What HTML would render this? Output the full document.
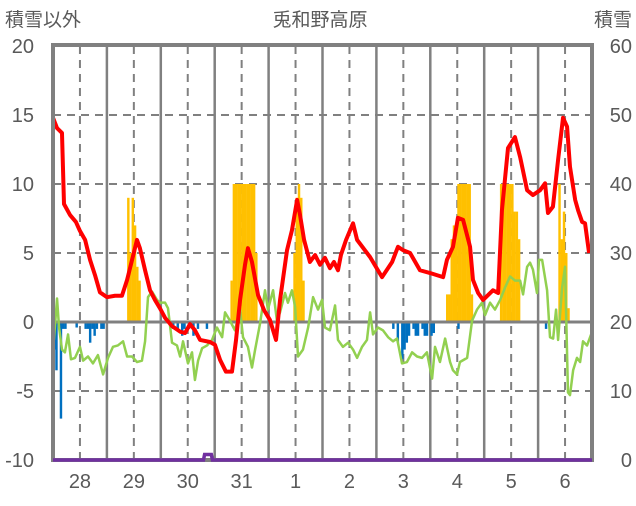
<!DOCTYPE html>
<html><head><meta charset="utf-8"><style>
body{margin:0;background:#fff;}
svg text{font-family:"Liberation Sans","Noto Sans CJK JP",sans-serif;fill:#595959;}
</style></head><body>
<svg id="c" width="636" height="501" viewBox="0 0 636 501">
<text x="5" y="26" font-size="19">積雪以外</text>
<text x="320" y="26" font-size="19" text-anchor="middle">兎和野高原</text>
<text x="632" y="26" font-size="19" text-anchor="end">積雪</text>
<g id="grid"></g><g id="bars"></g><g id="lines"></g><g id="frame"></g><g id="labels"></g>
</svg>
<script>
const leftTicks=[20,15,10,5,0,-5,-10];
const rightTicks=[60,50,40,30,20,10,0];
const dayLabels=["28","29","30","31","1","2","3","4","5","6"];
const snowDepth=[[0,49.6],[1.8,48.1],[4,47.4],[4.9,37.1],[7.6,35.5],[10.2,34.5],[12,33.2],[14.3,31.9],[16.5,29],[18.7,26.8],[20.9,24.3],[24,23.6],[27.6,23.8],[30.7,23.8],[33,26.1],[35.2,29],[37.4,31.9],[38.7,30.7],[41,27.5],[43.2,24.6],[45.4,23.2],[47.6,22],[49.9,20.6],[53,19.4],[56.6,18.6],[58.8,18.4],[61,19.7],[63.2,18.8],[65.5,17.4],[69.9,17.1],[72.1,16.7],[74.4,14.5],[77,12.8],[79.7,12.8],[81.5,17.4],[83.3,23.2],[85.5,28.3],[86.8,30.7],[88.6,28.7],[91.3,23.9],[94,21.7],[96.6,20.3],[99.3,17.4],[101.1,23.2],[104.2,30.4],[106.4,33.3],[108.7,37.7],[110,35.5],[111.8,31.9],[114.4,28.7],[116.7,29.7],[118.9,28.3],[121.1,29.3],[123.3,27.8],[125.1,28.7],[126.9,27.5],[128.2,29.7],[130.5,31.9],[133.6,34.3],[135.4,31.9],[141.2,29.4],[146.5,26.5],[151,28.7],[153.6,30.9],[155.9,30.4],[159,30],[163.4,27.5],[167.9,27.1],[173.7,26.5],[175.4,29],[178.1,30.9],[180.3,35.1],[182.6,34.8],[185.7,30.9],[187,26.1],[189.3,24.2],[191.5,23.2],[195.9,24.6],[198.2,24.2],[199.9,36.2],[202.6,45.2],[205.7,46.8],[208,43.9],[211.1,39.1],[213.7,38.4],[216.9,39.1],[219.1,40.1],[220.4,35.8],[222.6,36.7],[224.9,43.5],[227.1,49.6],[228.9,48.3],[230.2,42.5],[232.5,37.7],[233.8,36.2],[235.6,34.5],[236.9,34.3],[238.7,30]];
const temperature=[[0.4,-1.3],[1.8,1.7],[2.7,-0.4],[4,-2],[5.3,-2.2],[6.7,-0.9],[8,-2.7],[9.8,-2.6],[12,-1.8],[13.4,-2.8],[15.6,-2.5],[17.8,-3],[20,-2.4],[22.3,-3.8],[24.5,-2.6],[26.7,-1.8],[28.9,-1.7],[31.2,-1.4],[33,-2.5],[35.2,-2.5],[37.4,-2.9],[39.6,-2.8],[41,-1.4],[42.3,1.8],[44.1,2.2],[46.3,1.6],[47.6,1.4],[49.9,1.4],[51.2,1],[53,-1.5],[55.2,-1.7],[56.6,-2.5],[57.9,-1.4],[60.1,-3],[61.9,-2.2],[63.2,-4.2],[64.6,-2.8],[66.4,-1.9],[68.6,-1.7],[70.8,-1.3],[73,-0.4],[75.3,-1.1],[76.6,0.7],[78.8,0.1],[81,-0.6],[83.3,0.9],[84.6,-1.1],[86.8,-1.8],[88.6,-3.3],[90,-2],[92.2,-0.1],[94.4,2.3],[95.7,0.9],[98,2.3],[99.7,0.1],[101.1,0.7],[103.3,2.1],[104.6,1.4],[106.4,2.3],[107.8,1.1],[109.1,-2.5],[111.3,-2],[113.6,-0.4],[115.8,1.8],[118,0.9],[119.8,1.6],[121.1,-0.4],[123.3,-0.6],[125.6,1.2],[126.9,-1.3],[129.1,-1.8],[131.4,-1.5],[133.6,-2],[135.4,-2.6],[137.6,-1.8],[139.8,-1.3],[141.2,0.7],[142.5,-0.9],[144.7,-0.4],[146.9,-0.6],[149.2,-1.1],[151.4,-1.4],[153.2,-1.2],[155.4,-3],[157.6,-2.9],[159.9,-2.2],[162.1,-2.5],[164.3,-2.6],[166.5,-2.2],[168.8,-4.1],[170.1,-1.8],[172.3,-2.9],[174.6,-1.2],[176.8,-2.9],[178.1,-3.5],[179.9,-3.8],[181.2,-2.9],[184.4,-2.6],[186.6,0.1],[188.8,0.9],[191,1.4],[192.4,0.5],[194.6,1.4],[196.8,0.9],[199.1,1.6],[201.3,2.5],[203.5,3.3],[205.7,3],[208,3],[209.3,2],[211.1,4],[212.4,4.3],[213.7,3.8],[215.5,2.1],[216.4,4.5],[217.8,4.5],[220,2.3],[221.3,-1.1],[222.7,-1.2],[224,0.9],[224.9,-1.3],[226.7,2.5],[228,4],[229.3,-5.1],[230.2,-5.3],[231.6,-3.5],[233.3,-2.6],[234.7,-2.9],[236,-1.4],[237.8,-1.7],[239.6,-0.9]];
const precipitation=[[33,9],[34,5],[35,9],[36,7],[37,4],[38,3],[79,3],[80,10],[81,10],[82,10],[83,10],[84,10],[85,10],[86,10],[87,10],[88,10],[89,10],[90,5],[107,5],[108,9],[109,10],[110,9],[111,3],[175,2],[176,2],[177,6],[178,7],[179,7],[180,10],[181,10],[182,10],[183,10],[184,10],[185,10],[186,2],[199,10],[200,10],[201,10],[202,10],[203,10],[204,10],[205,8],[206,8],[207,6],[225,10],[226,6],[227,8],[228,5],[229,1]];
const negativeBars=[[0,-2],[1,-3.5],[3,-7],[4,-0.5],[5,-0.5],[10,-0.4],[14,-0.5],[15,-0.5],[16,-1.5],[17,-0.5],[18,-1],[19,-0.5],[21,-0.5],[22,-0.5],[53,-0.5],[55,-0.5],[57,-1],[58,-0.5],[60,-0.5],[62,-1],[64,-0.5],[68,-0.5],[151,-0.5],[153,-1.5],[155,-2.7],[156,-2],[157,-1.5],[158,-1],[160,-0.5],[161,-1],[162,-1],[164,-0.5],[165,-1],[166,-1],[168,-1],[169,-0.8],[180,-0.5],[219,-0.5]];
const snowfall=[[0,0],[67,0],[67.5,0.8],[70.5,0.8],[71,0],[240,0]];
</script>
<script>
const NS="http://www.w3.org/2000/svg";
const X0=53,X1=592,Y0=46,Y1=460;
function xT(h){return X0+h*(X1-X0)/240;}
function yL(v){return Y1-(v+10)*(Y1-Y0)/30;}
function yR(r){return Y1-r*(Y1-Y0)/60;}
function mk(tag,attrs,parent){const e=document.createElementNS(NS,tag);for(const k in attrs)e.setAttribute(k,attrs[k]);document.getElementById(parent).appendChild(e);return e;}
leftTicks.forEach(v=>{
  if(v===20||v===-10||v===0)return;
  const l=mk('line',{x1:X0,x2:X1,y1:yL(v),y2:yL(v),stroke:'#808080','stroke-width':2,'stroke-dasharray':'8,6'},'grid');
  
  
});
for(let d=0;d<10;d++){
  const xm=xT(d*24+12);
  const l=mk('line',{x1:xm,x2:xm,y1:Y0,y2:Y1,stroke:'#808080','stroke-width':2,'stroke-dasharray':'8,6'},'grid');
  
  
  if(d>0){const xb=xT(d*24);
  const s=mk('line',{x1:xb,x2:xb,y1:Y0,y2:Y1,stroke:'#808080','stroke-width':2.5},'grid');
  
  }
}
const bw=(X1-X0)/240+0.2;
precipitation.forEach(p=>{
  const v=Math.min(p[1],10);
  const r=mk('rect',{x:xT(p[0]),y:yL(v),width:bw,height:yL(0)-yL(v),fill:'#FFC000'},'bars');
  
  
});
negativeBars.forEach(p=>{
  const r=mk('rect',{x:xT(p[0]),y:yL(0),width:bw,height:yL(p[1])-yL(0),fill:'#0070C0'},'bars');
  
  
});
const zl=mk('line',{x1:X0,x2:X1,y1:yL(0),y2:yL(0),stroke:'#808080','stroke-width':3},'bars');


const gp=mk('polyline',{points:temperature.map(p=>xT(p[0])+','+yL(p[1])).join(' '),fill:'none',stroke:'#92D050','stroke-width':2.5,'stroke-linejoin':'round'},'lines');


const rp=mk('polyline',{points:snowDepth.map(p=>xT(p[0])+','+yR(p[1])).join(' '),fill:'none',stroke:'#FF0000','stroke-width':4,'stroke-linejoin':'round'},'lines');


const fr=mk('rect',{x:X0,y:Y0-1,width:X1-X0,height:Y1-Y0+1,fill:'none',stroke:'#808080','stroke-width':4},'frame');


const pp=mk('polyline',{points:snowfall.map(p=>xT(p[0])+','+yR(p[1])).join(' '),fill:'none',stroke:'#7030A0','stroke-width':3.5},'frame');


leftTicks.forEach(v=>{
  const t=mk('text',{x:34,y:yL(v)+7,'font-size':20,'text-anchor':'end'},'labels');t.textContent=v;
  
  
});
rightTicks.forEach(v=>{
  const t=mk('text',{x:632,y:yR(v)+7,'font-size':20,'text-anchor':'end'},'labels');t.textContent=v;
  
  
});
dayLabels.forEach((d,i)=>{
  const t=mk('text',{x:xT(i*24+12),y:488,'font-size':20,'text-anchor':'middle'},'labels');t.textContent=d;
  
  
});
</script>
</body></html>
